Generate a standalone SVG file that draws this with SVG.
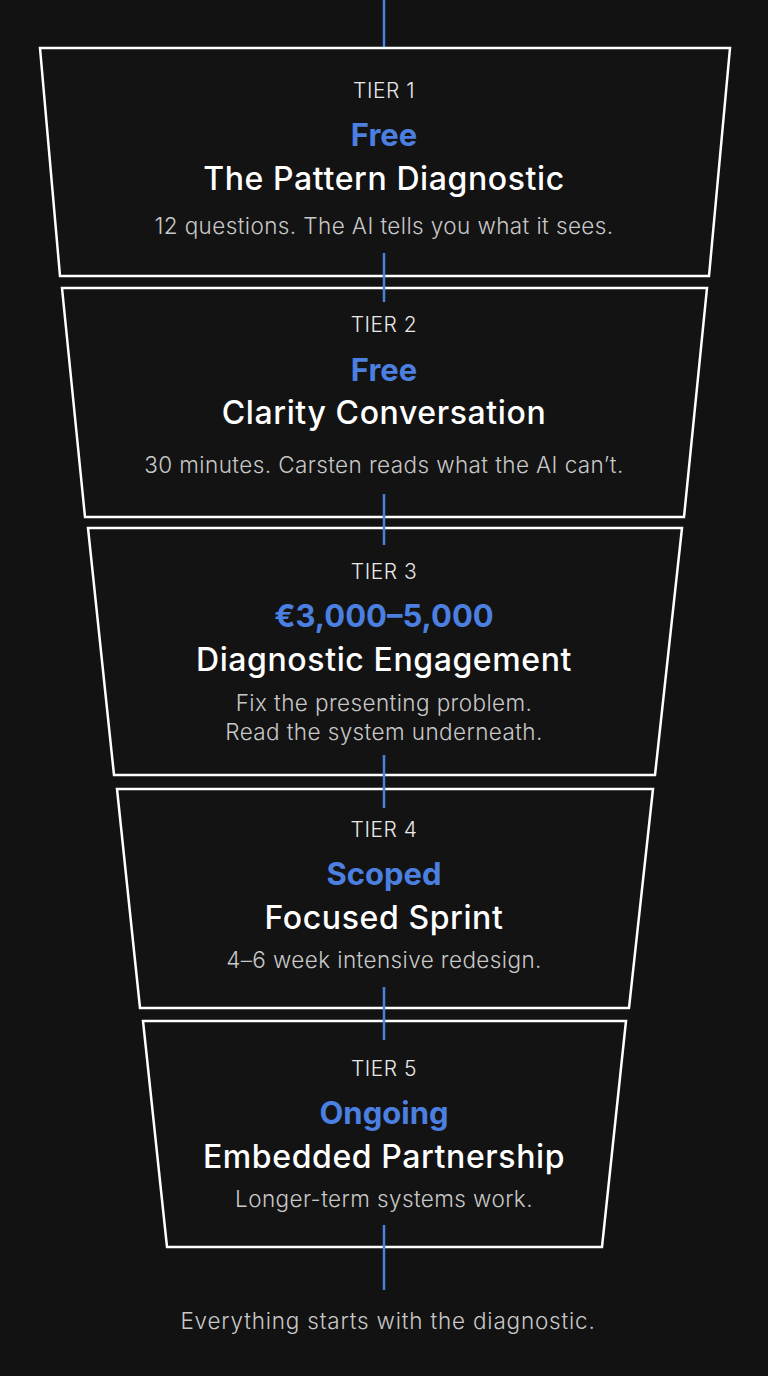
<svg xmlns="http://www.w3.org/2000/svg" width="768" height="1376" viewBox="0 0 768 1376">
<style>
.box{fill:#131313;stroke:#fff;stroke-width:2.5}
.tier{font-family:Inter,"Open Sans",sans-serif;font-size:21px;fill:#e8e8e8;text-anchor:middle;font-weight:300;letter-spacing:0.5px}
.price{font-family:Inter,"Open Sans",sans-serif;font-size:31px;fill:#4b7fe0;text-anchor:middle;font-weight:700}
.name{font-family:Inter,"Open Sans",sans-serif;font-size:32px;fill:#fff;text-anchor:middle;font-weight:500;letter-spacing:0.6px}
.desc{font-family:Inter,"Open Sans",sans-serif;font-size:22.5px;fill:#c8c8c8;text-anchor:middle;font-weight:300;letter-spacing:0.4px}
.ln{stroke:#4b7fe0;stroke-width:2.5}
</style>
<rect width="768" height="1376" fill="#121212"/>
<g id="connectors">
<line class="ln" x1="384" y1="0" x2="384" y2="68"/>
</g>
<g id="tier1"><polygon class="box" points="40,48 730,48 709,276 60,276"/>
<text class="tier" x="384" y="98">TIER 1</text><text class="price" x="384" y="146">Free</text><text class="name" x="384" y="190">The Pattern Diagnostic</text><text class="desc" x="384" y="234">12 questions. The AI tells you what it sees.</text></g>
<g id="tier2"><polygon class="box" points="62,288 707,288 684,517 85,517"/>
<text class="tier" x="384" y="332">TIER 2</text><text class="price" x="384" y="381">Free</text><text class="name" x="384" y="424">Clarity Conversation</text><text class="desc" x="384" y="473">30 minutes. Carsten reads what the AI can’t.</text></g>
<g id="tier3"><polygon class="box" points="88,528 682,528 655,775 114,775"/>
<text class="tier" x="384" y="579">TIER 3</text><text class="price" x="384" y="627">€3,000–5,000</text><text class="name" x="384" y="671">Diagnostic Engagement</text><text class="desc" x="384" y="711">Fix the presenting problem.</text><text class="desc" x="384" y="740">Read the system underneath.</text></g>
<g id="tier4"><polygon class="box" points="117,789 653,789 629,1008 140,1008"/>
<text class="tier" x="384" y="837">TIER 4</text><text class="price" x="384" y="885">Scoped</text><text class="name" x="384" y="929">Focused Sprint</text><text class="desc" x="384" y="968">4–6 week intensive redesign.</text></g>
<g id="tier5"><polygon class="box" points="143,1021 626,1021 602,1247 167,1247"/>
<text class="tier" x="384" y="1076">TIER 5</text><text class="price" x="384" y="1124">Ongoing</text><text class="name" x="384" y="1168">Embedded Partnership</text><text class="desc" x="384" y="1207">Longer-term systems work.</text></g>
<g id="connectors2">
<line class="ln" x1="384" y1="253" x2="384" y2="302"/>
<line class="ln" x1="384" y1="494" x2="384" y2="545"/>
<line class="ln" x1="384" y1="755" x2="384" y2="808"/>
<line class="ln" x1="384" y1="987" x2="384" y2="1040"/>
<line class="ln" x1="384" y1="1225" x2="384" y2="1290"/>
</g>
<text class="desc" x="388" y="1329" style="letter-spacing:0.8px">Everything starts with the diagnostic.</text>
</svg>
